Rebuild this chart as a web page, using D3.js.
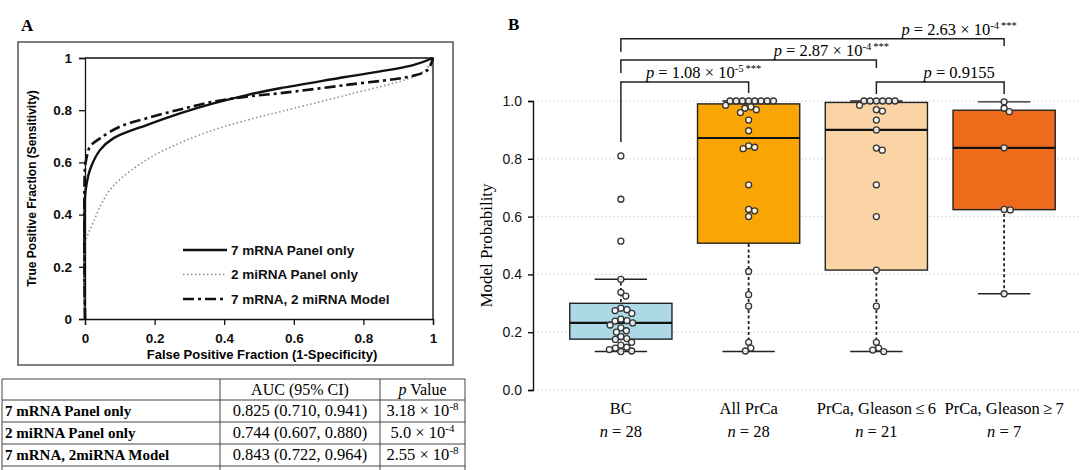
<!DOCTYPE html>
<html>
<head>
<meta charset="utf-8">
<script src="https://cdn.jsdelivr.net/npm/d3@7"></script>
<style>
  body { margin: 0; background: #fff; }
</style>
</head>
<body>
<svg id="fig" width="1080" height="470"></svg>
<script>
// ---- panel A : ROC curves (fpr, tpr)
var roc7mRNA = [[0,0],[0,0.47],[0.005,0.52],[0.014,0.571],[0.043,0.647],[0.081,0.692],[0.177,0.743],[0.273,0.788],[0.369,0.826],[0.465,0.858],[0.56,0.884],[0.752,0.928],[0.943,0.973],[1,1]];
var roc2miRNA = [[0,0],[0,0.28],[0.01,0.33],[0.024,0.37],[0.043,0.43],[0.081,0.51],[0.177,0.61],[0.273,0.675],[0.369,0.724],[0.465,0.762],[0.56,0.794],[0.752,0.858],[0.943,0.928],[0.982,0.96],[1,1]];
var rocCombined = [[0,0],[0,0.58],[0.005,0.62],[0.014,0.66],[0.043,0.692],[0.1,0.737],[0.177,0.769],[0.273,0.803],[0.369,0.833],[0.465,0.852],[0.56,0.865],[0.752,0.897],[0.943,0.932],[0.985,0.955],[1,1]];
var legendLabels = ["7 mRNA Panel only", "2 miRNA Panel only", "7 mRNA, 2 miRNA Model"];
var rocTicks = [0, 0.2, 0.4, 0.6, 0.8, 1];

// table under panel A
var tableRows = ["7 mRNA Panel only", "2 miRNA Panel only", "7 mRNA, 2miRNA Model"];
var tableAuc = ["0.825 (0.710, 0.941)", "0.744 (0.607, 0.880)", "0.843 (0.722, 0.964)"];
var tablePBase = ["3.18 × 10", "5.0 × 10", "2.55 × 10"];
var tablePExp = ["-8", "-4", "-8"];

// ---- panel B : box plots
var groups = ["BC", "All PrCa", "PrCa, Gleason\u2009≤\u20096", "PrCa, Gleason\u2009≥\u20097"];
var groupN = [28, 28, 21, 7];
var boxQ1 = [0.176, 0.508, 0.415, 0.624];
var boxMedian = [0.232, 0.872, 0.900, 0.838];
var boxQ3 = [0.300, 0.990, 0.995, 0.968];
var whiskLow = [0.133, 0.133, 0.133, 0.333];
var whiskHigh = [0.383, 1.0, 1.0, 0.997];
var boxColors = ["#add8e6", "#f9a504", "#fbd4a6", "#ee6b1c"];
var probTicks = [0, 0.2, 0.4, 0.6, 0.8, 1.0];

var ptsBC = [0.81, 0.66, 0.515, 0.383, 0.338, 0.325, 0.283, 0.278, 0.275, 0.265, 0.245, 0.24, 0.238, 0.232, 0.225, 0.215, 0.205, 0.2, 0.185, 0.178, 0.175, 0.165, 0.155, 0.148, 0.145, 0.14, 0.135, 0.133];
var ptsAll = [1, 1, 1, 1, 1, 1, 1, 1, 0.985, 0.98, 0.975, 0.97, 0.96, 0.934, 0.897, 0.845, 0.84, 0.835, 0.71, 0.625, 0.62, 0.60, 0.41, 0.33, 0.29, 0.165, 0.145, 0.135];
var ptsLow = [1, 1, 1, 1, 1, 1, 0.985, 0.97, 0.965, 0.934, 0.90, 0.837, 0.83, 0.71, 0.60, 0.415, 0.29, 0.165, 0.145, 0.138, 0.133];
var ptsHigh = [0.997, 0.975, 0.963, 0.838, 0.625, 0.623, 0.333];
var groupPoints = [ptsBC, ptsAll, ptsLow, ptsHigh];

// significance brackets: pair of groups, level, leg ends (probability units)
var bracketPairs = [[0, 3], [0, 2], [0, 1], [2, 3]];
var bracketLevel = [1.215, 1.142, 1.066, 1.066];
var bracketEnds = [[1.17, 1.19], [1.097, 1.114], [0.858, 1.028], [1.024, 1.024]];
var bracketText = ["2.63 × 10", "2.87 × 10", "1.08 × 10", "0.9155"];
var bracketExp = ["-4", "-4", "-5", ""];
var bracketStars = ["***", "***", "***", ""];

var svg = d3.select("#fig");
var serif = "'Liberation Serif', 'Times New Roman', serif";
var sans = "'Liberation Sans', Arial, sans-serif";

// ================= PANEL A =================
svg.append("text").attr("x", 21).attr("y", 31)
  .style("font-family", serif).style("font-weight", "bold").style("font-size", "17px")
  .text("A");

// outer frame of the chart
svg.append("rect").attr("x", 18).attr("y", 42).attr("width", 435).attr("height", 323)
  .attr("fill", "none").attr("stroke", "#555").attr("stroke-width", 1.5);

var xA = d3.scaleLinear().domain([0, 1]).range([85, 433]);
var yA = d3.scaleLinear().domain([0, 1]).range([319, 58]);

var gA = svg.append("g");
gA.append("clipPath").attr("id", "clipA").append("rect")
  .attr("x", xA(0) - 2).attr("y", yA(1) - 2).attr("width", xA(1) - xA(0) + 4).attr("height", yA(0) - yA(1) + 4);

var fmtA = function(d) { return (d === 0 || d === 1) ? String(d) : d.toFixed(1); };

gA.append("g").attr("transform", "translate(" + xA(0) + ",0)")
  .call(d3.axisLeft(yA).tickValues(rocTicks).tickFormat(fmtA).tickSize(6).tickPadding(7))
  .call(function(g) {
    g.selectAll("text").style("font-family", sans).style("font-weight", "bold").style("font-size", "13.5px").attr("fill", "#111");
    g.selectAll("line, path").attr("stroke", "#111").attr("stroke-width", 1.3);
  });

gA.append("g").attr("transform", "translate(0," + yA(0) + ")")
  .call(d3.axisBottom(xA).tickValues(rocTicks).tickFormat(fmtA).tickSize(6).tickPadding(8))
  .call(function(g) {
    g.selectAll("text").style("font-family", sans).style("font-weight", "bold").style("font-size", "13.5px").attr("fill", "#111");
    g.selectAll("line, path").attr("stroke", "#111").attr("stroke-width", 1.3);
  });

// top and right edges of the plot area
gA.append("path")
  .attr("d", "M" + xA(0) + "," + yA(1) + "H" + xA(1) + "V" + yA(0))
  .attr("fill", "none").attr("stroke", "#111").attr("stroke-width", 1.3);

gA.append("text")
  .attr("transform", "translate(36," + ((yA(0) + yA(1)) / 2) + ") rotate(-90)")
  .attr("text-anchor", "middle")
  .style("font-family", sans).style("font-weight", "bold").style("font-size", "12px")
  .text("True Positive Fraction (Sensitivity)");

gA.append("text")
  .attr("x", 262).attr("y", 359)
  .attr("text-anchor", "middle")
  .style("font-family", sans).style("font-weight", "bold").style("font-size", "13px")
  .text("False Positive Fraction (1-Specificity)");

var rocLine = d3.line()
  .x(function(d) { return xA(d[0]); })
  .y(function(d) { return yA(d[1]); })
  .curve(d3.curveCatmullRom.alpha(0.5));

var rocStyles = [
  { data: roc7mRNA, color: "#111", width: 2.4, dash: null },
  { data: roc2miRNA, color: "#8a8a8a", width: 1.6, dash: "1.4,2.6" },
  { data: rocCombined, color: "#111", width: 2.6, dash: "11,4,3,4" }
];

gA.append("g").attr("clip-path", "url(#clipA)")
  .selectAll("path").data(rocStyles).enter().append("path")
  .attr("d", function(d) { return rocLine(d.data); })
  .attr("fill", "none")
  .attr("stroke", function(d) { return d.color; })
  .attr("stroke-width", function(d) { return d.width; })
  .attr("stroke-dasharray", function(d) { return d.dash; });

// legend
var leg = gA.selectAll(".leg").data(rocStyles).enter().append("g")
  .attr("transform", function(d, i) { return "translate(183," + (250 + i * 24.5) + ")"; });
leg.append("line").attr("x1", 0).attr("x2", 44)
  .attr("stroke", function(d) { return d.color; })
  .attr("stroke-width", function(d) { return d.width; })
  .attr("stroke-dasharray", function(d) { return d.dash; });
leg.append("text").attr("x", 48).attr("dy", "0.35em")
  .style("font-family", sans).style("font-weight", "bold").style("font-size", "13.5px").attr("fill", "#111")
  .text(function(d, i) { return legendLabels[i]; });

// ---- table
var tblCols = [2, 220, 380, 465];
var tblRowsY = [379, 400, 422, 444, 466];
var tbl = svg.append("g");
tblRowsY.forEach(function(y) {
  tbl.append("line").attr("x1", tblCols[0]).attr("x2", tblCols[3]).attr("y1", y).attr("y2", y)
    .attr("stroke", "#444").attr("stroke-width", 1);
});
tblCols.forEach(function(x) {
  tbl.append("line").attr("x1", x).attr("x2", x).attr("y1", tblRowsY[0]).attr("y2", 470)
    .attr("stroke", "#444").attr("stroke-width", 1);
});
var rowMid = function(i) { return (tblRowsY[i] + tblRowsY[i + 1]) / 2 + 5; };

tbl.append("text").attr("x", (tblCols[1] + tblCols[2]) / 2).attr("y", rowMid(0))
  .attr("text-anchor", "middle").style("font-family", serif).style("font-size", "16px")
  .text("AUC (95% CI)");
var ph = tbl.append("text").attr("x", (tblCols[2] + tblCols[3]) / 2).attr("y", rowMid(0))
  .attr("text-anchor", "middle").style("font-family", serif).style("font-size", "16px");
ph.append("tspan").style("font-style", "italic").text("p");
ph.append("tspan").text(" Value");

tableRows.forEach(function(r, i) {
  var y = rowMid(i + 1);
  tbl.append("text").attr("x", 5).attr("y", y)
    .style("font-family", serif).style("font-weight", "bold").style("font-size", "15px").text(r);
  tbl.append("text").attr("x", (tblCols[1] + tblCols[2]) / 2).attr("y", y)
    .attr("text-anchor", "middle").style("font-family", serif).style("font-size", "16.5px").text(tableAuc[i]);
  var pt = tbl.append("text").attr("x", (tblCols[2] + tblCols[3]) / 2).attr("y", y)
    .attr("text-anchor", "middle").style("font-family", serif).style("font-size", "16.5px");
  pt.append("tspan").text(tablePBase[i]);
  pt.append("tspan").attr("dy", -6).style("font-size", "11px").text(tablePExp[i]);
});

// ================= PANEL B =================
svg.append("text").attr("x", 508).attr("y", 30)
  .style("font-family", serif).style("font-weight", "bold").style("font-size", "17px")
  .text("B");

var xB = d3.scalePoint().domain(groups).range([557, 1068]).padding(0.5);
var step = xB.step();
var yB = d3.scaleLinear().domain([0, 1]).range([390, 101]);

var gB = svg.append("g");

// dotted grid
gB.selectAll(".grid").data(probTicks).enter().append("line")
  .attr("x1", 537).attr("x2", 1080)
  .attr("y1", function(d) { return yB(d); }).attr("y2", function(d) { return yB(d); })
  .attr("stroke", "#d9d9d9").attr("stroke-width", 1).attr("stroke-dasharray", "2,2");

gB.append("g").attr("transform", "translate(533,0)")
  .call(d3.axisLeft(yB).tickValues(probTicks).tickFormat(d3.format(".1f")).tickSize(5).tickSizeOuter(5).tickPadding(6))
  .call(function(g) {
    g.selectAll("text").style("font-family", sans).style("font-size", "14px").attr("fill", "#111");
    g.selectAll("line, path").attr("stroke", "#111").attr("stroke-width", 1.4);
  });

gB.append("text")
  .attr("transform", "translate(492," + ((yB(0) + yB(1)) / 2) + ") rotate(-90)")
  .attr("text-anchor", "middle")
  .style("font-family", serif).style("font-size", "17px")
  .text("Model Probability");

// x labels
groups.forEach(function(g, i) {
  gB.append("text").attr("x", xB(g)).attr("y", 414).attr("text-anchor", "middle")
    .style("font-family", serif).style("font-size", "16.5px").text(g);
  var t = gB.append("text").attr("x", xB(g)).attr("y", 437).attr("text-anchor", "middle")
    .style("font-family", serif).style("font-size", "16.5px");
  t.append("tspan").style("font-style", "italic").text("n");
  t.append("tspan").text(" = " + groupN[i]);
});

var boxW = step * 0.8, capW = step * 0.41;
var boxes = gB.selectAll(".box").data(groups).enter().append("g");

// whiskers (dotted)
boxes.append("line")
  .attr("x1", function(d) { return xB(d); }).attr("x2", function(d) { return xB(d); })
  .attr("y1", function(d, i) { return yB(whiskLow[i]); })
  .attr("y2", function(d, i) { return yB(whiskHigh[i]); })
  .attr("stroke", "#222").attr("stroke-width", 1.8).attr("stroke-dasharray", "3,2.5");
[whiskLow, whiskHigh].forEach(function(arr) {
  boxes.append("line")
    .attr("x1", function(d) { return xB(d) - capW / 2; }).attr("x2", function(d) { return xB(d) + capW / 2; })
    .attr("y1", function(d, i) { return yB(arr[i]); }).attr("y2", function(d, i) { return yB(arr[i]); })
    .attr("stroke", "#222").attr("stroke-width", 1.4);
});
boxes.append("rect")
  .attr("x", function(d) { return xB(d) - boxW / 2; })
  .attr("y", function(d, i) { return yB(boxQ3[i]); })
  .attr("width", boxW)
  .attr("height", function(d, i) { return yB(boxQ1[i]) - yB(boxQ3[i]); })
  .attr("fill", function(d, i) { return boxColors[i]; })
  .attr("stroke", "#222").attr("stroke-width", 1.4);
boxes.append("line")
  .attr("x1", function(d) { return xB(d) - boxW / 2; }).attr("x2", function(d) { return xB(d) + boxW / 2; })
  .attr("y1", function(d, i) { return yB(boxMedian[i]); }).attr("y2", function(d, i) { return yB(boxMedian[i]); })
  .attr("stroke", "#111").attr("stroke-width", 2.2);

// beeswarm placement of points
var r = 3, dmin = 6.2;
function swarm(vals) {
  var placed = [];
  vals.forEach(function(v) {
    var y = yB(v);
    var cands = [0];
    placed.forEach(function(p) {
      var dy = Math.abs(p.y - y);
      if (dy < dmin) {
        var dx = Math.sqrt(dmin * dmin - dy * dy);
        cands.push(p.x + dx, p.x - dx);
      }
    });
    cands.sort(function(a, b) { return Math.abs(a) - Math.abs(b); });
    var best = cands.find(function(c) {
      return placed.every(function(p) {
        var ddx = p.x - c, ddy = p.y - y;
        return ddx * ddx + ddy * ddy >= dmin * dmin - 0.01;
      });
    });
    placed.push({ x: best, y: y });
  });
  return placed;
}

groups.forEach(function(g, i) {
  var pos = swarm(groupPoints[i]);
  gB.append("g").selectAll("circle").data(pos).enter().append("circle")
    .attr("cx", function(d) { return xB(g) + d.x; })
    .attr("cy", function(d) { return d.y; })
    .attr("r", r)
    .attr("fill", "#fff").attr("fill-opacity", 0.85)
    .attr("stroke", "#333").attr("stroke-width", 1.3);
});

// significance brackets
bracketPairs.forEach(function(p, i) {
  var xa = xB(groups[p[0]]), xb = xB(groups[p[1]]), yl = yB(bracketLevel[i]);
  gB.append("path")
    .attr("d", "M" + xa + "," + yB(bracketEnds[i][0]) + "V" + yl + "H" + xb + "V" + yB(bracketEnds[i][1]))
    .attr("fill", "none").attr("stroke", "#222").attr("stroke-width", 1.5);
  var t = gB.append("text").attr("x", xb - 45).attr("y", yl - 4).attr("text-anchor", "middle")
    .style("font-family", serif).style("font-size", "16.5px");
  t.append("tspan").style("font-style", "italic").text("p");
  t.append("tspan").text(" = " + bracketText[i]);
  if (bracketExp[i]) {
    t.append("tspan").attr("dy", -6).style("font-size", "10.5px").text(bracketExp[i]);
    t.append("tspan").style("font-size", "10.5px").text("\u2009" + bracketStars[i]);
  }
});
</script>
</body>
</html>
